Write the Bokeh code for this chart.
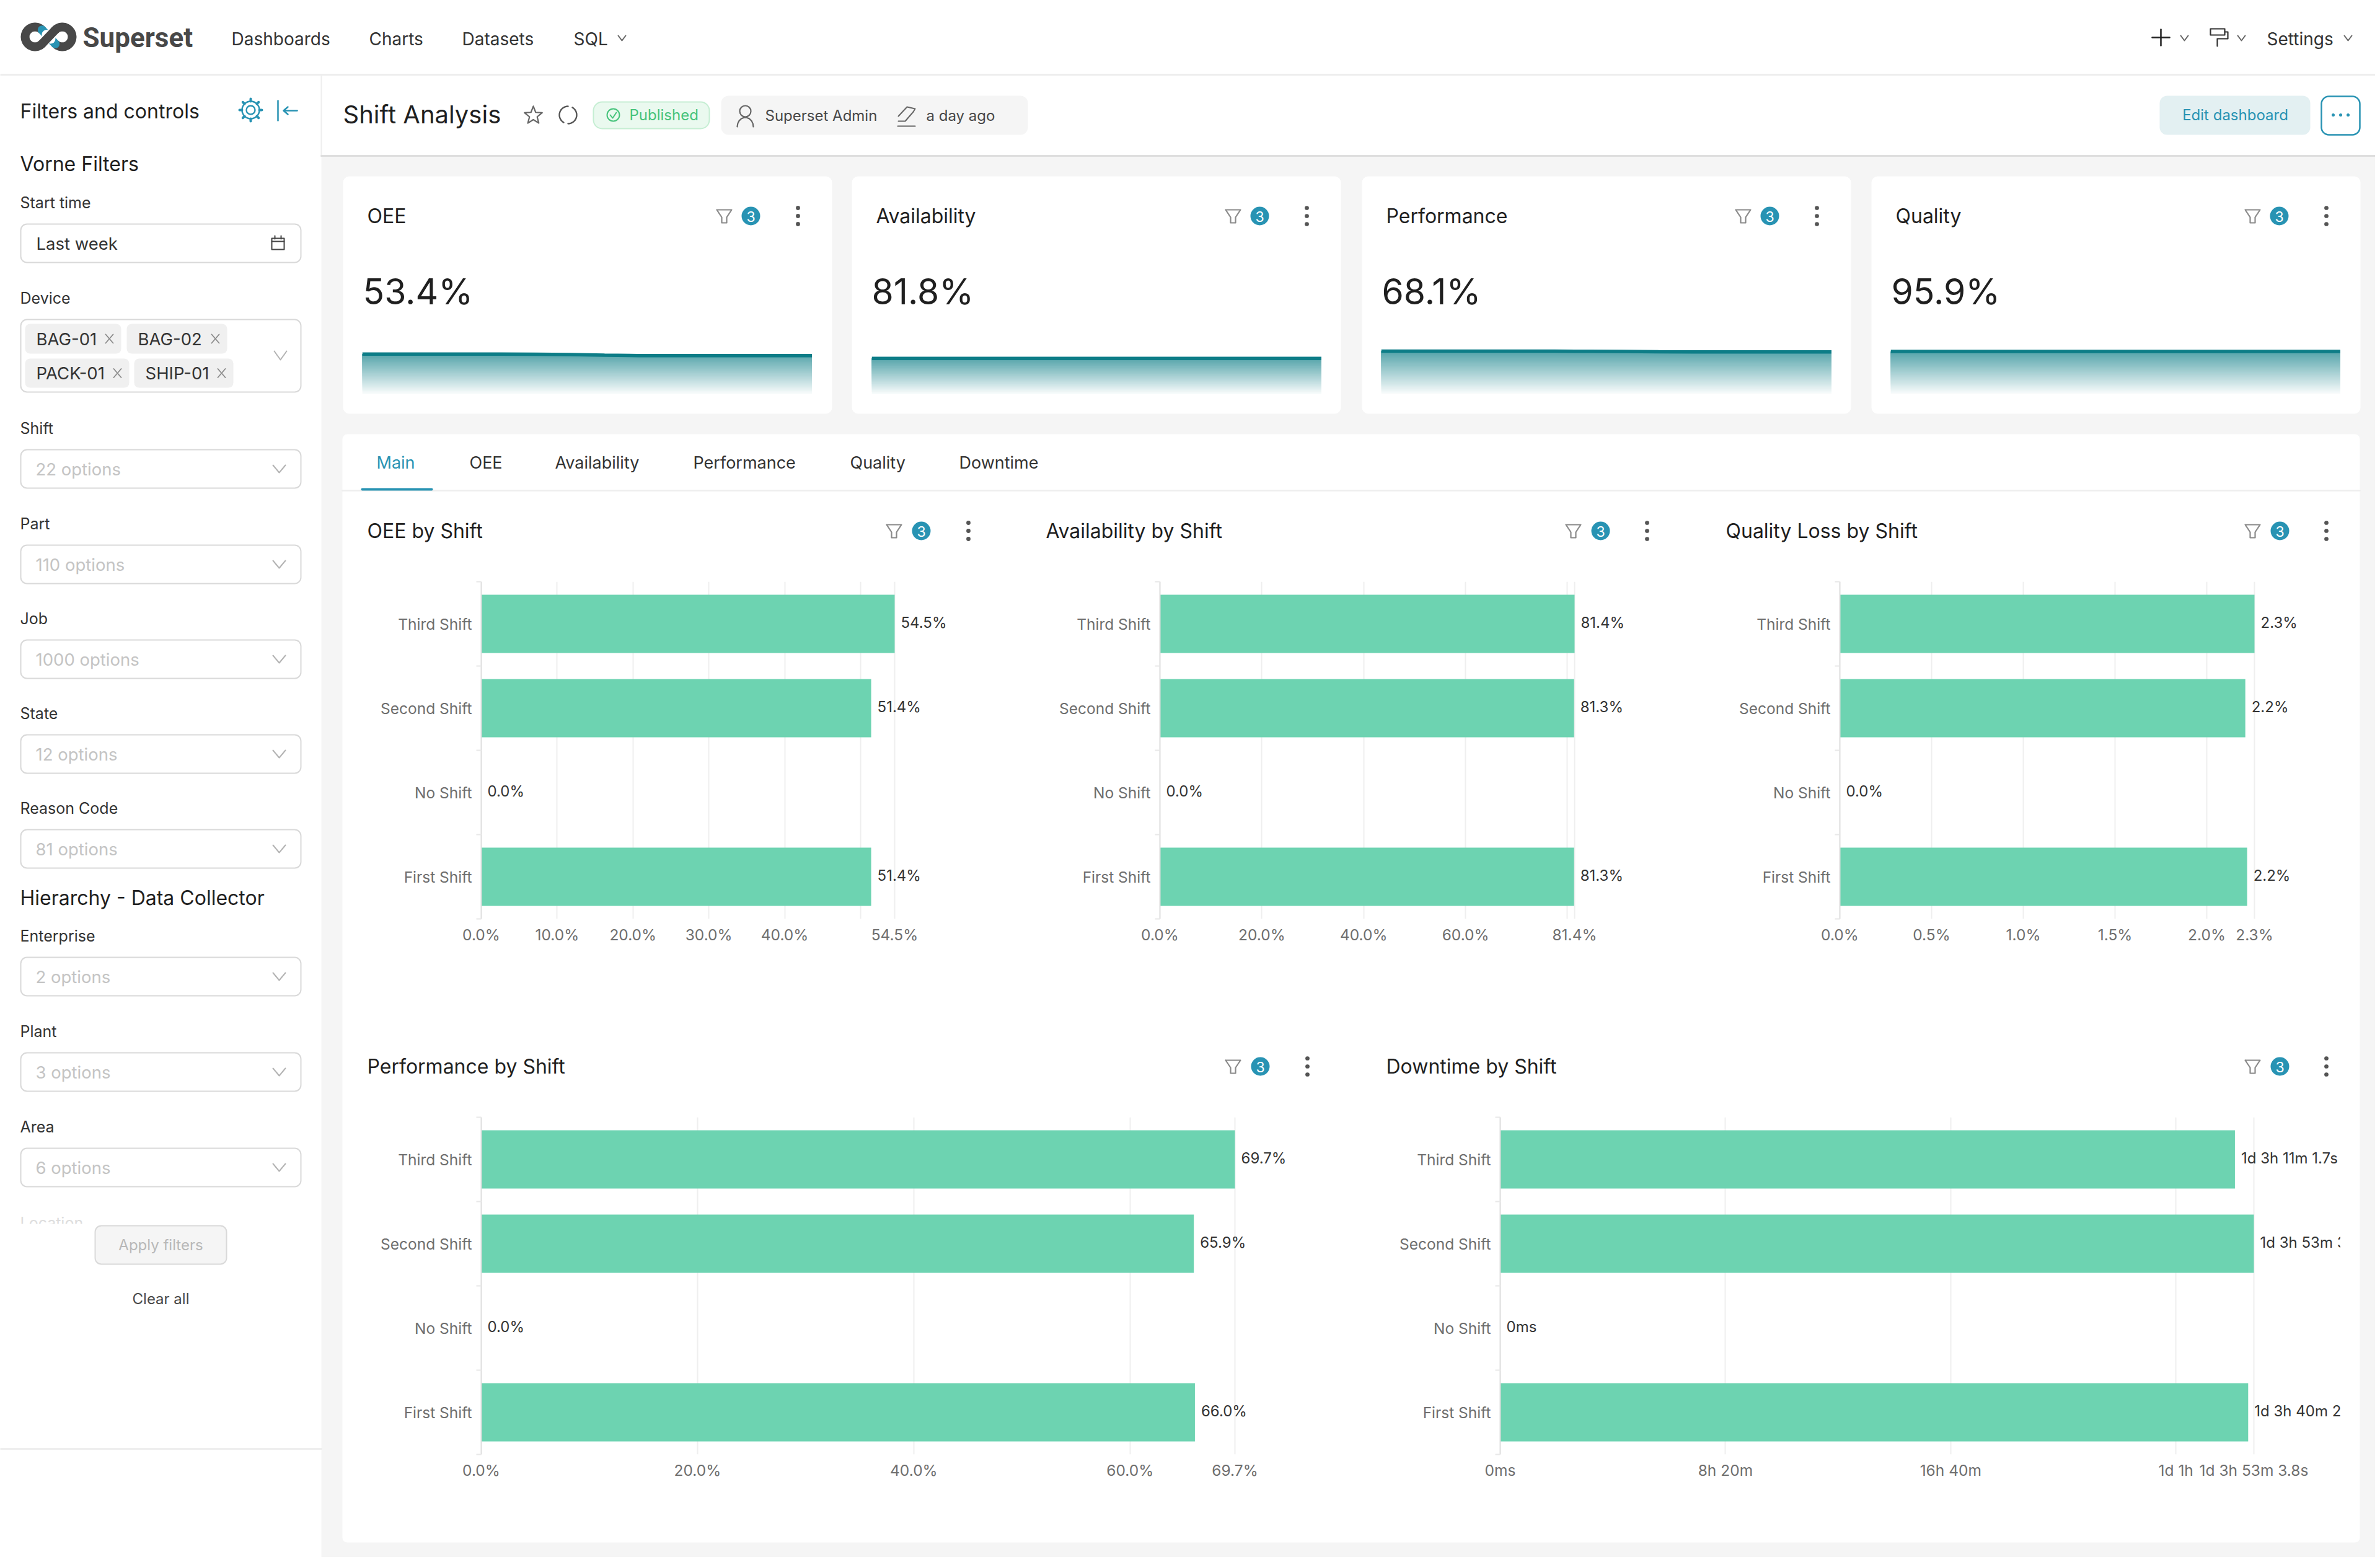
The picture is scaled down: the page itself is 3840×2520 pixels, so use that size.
import math
import numpy as np
from bokeh.core.properties import value
from bokeh.embed import file_html
from bokeh.models import ColumnDataSource, FixedTicker, Range1d
from bokeh.plotting import figure
from bokeh.resources import INLINE

# ---------------- data ----------------
shifts = ["First Shift", "No Shift", "Second Shift", "Third Shift"]
oee_by_shift = [51.4, 0.0, 51.4, 54.5]
availability_by_shift = [81.3, 0.0, 81.3, 81.4]
quality_loss_by_shift = [2.22, 0.0, 2.21, 2.26]
performance_by_shift = [66.0, 0.0, 65.9, 69.7]
downtime_seconds = [99625.0, 0.0, 100383.8, 97861.7]

oee_ticks = [0, 10, 20, 30, 40, 50, 54.5]
availability_ticks = [0, 20, 40, 60, 80, 81.4]
quality_ticks = [0, 0.5, 1.0, 1.5, 2.0, 2.26]
performance_ticks = [0, 20, 40, 60, 69.7]
downtime_ticks = [0, 30000, 60000, 90000, 100383.8]
downtime_tick_labels = ["0ms", "8h 20m", "16h 40m", "1d 1h", "1d 3h 53m 3.8s"]

kpi_names = ["OEE", "Availability", "Performance", "Quality"]
kpi_values = ["53.4%", "81.8%", "68.1%", "95.9%"]
spark_oee = [54.6, 54.6, 54.6, 54.6, 54.6, 54.5, 54.2, 53.8, 53.5, 53.4, 53.4, 53.4, 53.4, 53.4]
spark_availability = [81.8, 81.8, 81.8, 81.8, 81.8, 81.8, 81.8, 81.8, 81.8, 81.8, 81.8, 81.8, 81.8, 81.8]
spark_performance = [68.6, 68.6, 68.6, 68.6, 68.6, 68.6, 68.5, 68.4, 68.2, 68.1, 68.1, 68.1, 68.1, 68.1]
spark_quality = [95.9, 95.9, 95.9, 95.9, 95.9, 95.9, 95.9, 95.9, 95.9, 95.9, 95.9, 95.9, 95.9, 95.9]

tabs = ["Main", "OEE", "Availability", "Performance", "Quality", "Downtime"]
nav_items = ["Dashboards", "Charts", "Datasets", "SQL"]
device_tags = ["BAG-01", "BAG-02", "PACK-01", "SHIP-01"]
filter_names = ["Shift", "Part", "Job", "State", "Reason Code", "Enterprise", "Plant", "Area"]
filter_options = ["22 options", "110 options", "1000 options", "12 options", "81 options",
                  "2 options", "3 options", "6 options"]

# ---------------- styles ----------------
TEAL = "#2893b3"
BAR = "#6dd3b1"
INK = "#1f1f1f"
FONT = "Inter"
WIN_W, WIN_H = 3832, 2512

bg = figure(width=WIN_W, height=WIN_H, x_range=Range1d(0, WIN_W), y_range=Range1d(WIN_H, 0),
            output_backend="svg", toolbar_location=None, min_border=0, outline_line_color=None,
            background_fill_color="white", border_fill_color="white")
bg.xaxis.visible = False
bg.yaxis.visible = False
bg.grid.visible = False


def box(x0, y0, x1, y1, fill="white", line=None, r=0, lw=2):
    bg.quad(left=[x0], right=[x1], top=[y0], bottom=[y1], fill_color=fill, line_color=line,
            line_width=lw, border_radius=r)


def txt(x, y, s, size, color=INK, align="left", font=FONT, style="normal"):
    bg.text(x=[x], y=[y], text=[s], text_font=value(font), text_font_size=f"{size}px",
            text_color=color, text_align=align, text_baseline="middle", text_font_style=style)


def ln(xs, ys, color="#555555", w=2):
    bg.line(x=xs, y=ys, line_color=color, line_width=w, line_cap="round", line_join="round")


def ring(x, y, r, color="#555555", w=2, fill=None):
    bg.circle(x=[x], y=[y], radius=r, line_color=color, line_width=w, fill_color=fill)


def dot(x, y, r, color):
    bg.circle(x=[x], y=[y], radius=r, line_color=None, fill_color=color)


def chevron(x, y, w=11, h=6, color="#666666", lw=2):
    ln([x - w, x, x + w], [y - h, y + h, y - h], color, lw)


def pieces(x, y):
    """funnel, count badge and more-menu of a chart header"""
    fx, bx, mx = x
    ln([fx - 12, fx + 12, fx + 4, fx + 4, fx - 4, fx - 4, fx - 12],
       [y - 10, y - 10, y + 2, y + 11, y + 11, y + 2, y - 10], "#8a8a8a", 2.2)
    dot(bx, y, 15, TEAL)
    txt(bx, y + 1, "3", 23, "white", "center")
    for dy in (-13, 0, 13):
        dot(mx, y + dy, 3.4, "#555555")


# ---------------- page background ----------------
box(518, 251, WIN_W, WIN_H, "#f5f5f5")
ln([0, WIN_W], [120, 120], "#eeeeee", 3)
ln([518, 518], [120, 251], "#eeeeee", 2)
ln([518, WIN_W], [251, 251], "#dedede", 3)

# ---------------- top navigation ----------------
d = np.radians(np.arange(45, 316, 15))
lx = 56 + 16 * np.cos(d)
ly = 59 - 16 * np.sin(d)
rx = 100 - 16 * np.cos(d)
ry = 59 - 16 * np.sin(d)
ln(list(lx), list(ly), "#484848", 14)
ln(list(rx), list(ry), "#484848", 14)
ln([67.3, 88.7], [47.7, 70.3], TEAL, 14)
ln([75, 81], [55.5, 62], "#ffffff", 16)
ln([67.3, 88.7], [70.3, 47.7], "#484848", 14)
txt(133, 60, "Superset", 44, "#484848", font="Roboto", style="bold")
for name, x in zip(nav_items, [373, 595, 745, 925]):
    txt(x, 62, name, 28, "#333333")
chevron(1003, 61, 6, 4)
ln([3472, 3500], [60, 60], INK, 2.5)
ln([3486, 3486], [47, 73], INK, 2.5)
chevron(3524, 61, 6, 4)
ln([3566, 3589, 3589, 3566, 3566], [46, 46, 56, 56, 46], "#333333", 2.2)
ln([3589, 3594, 3594, 3577, 3577, 3577], [51, 51, 62, 62, 62, 74], "#333333", 2.2)
chevron(3616, 61, 6, 4)
txt(3657, 62, "Settings", 28, "#333333")
chevron(3788, 61, 6, 4)

# ---------------- title bar ----------------
txt(553, 184, "Shift Analysis", 40, INK)
a = np.radians(np.arange(-90, 270, 36))
sr = np.array([15, 6.5] * 5)
ln(list(860 + sr * np.cos(a)) + [860], list(186 + sr * np.sin(a)) + [171], "#666666", 2.2)
a1 = np.radians(np.arange(-60, 100, 10))
ln(list(916 + 14 * np.cos(a1)), list(185 + 14 * np.sin(a1)), "#555555", 2.4)
ln(list(916 - 14 * np.cos(a1)), list(185 - 14 * np.sin(a1)), "#555555", 2.4)
box(957, 164, 1144, 207, "#eaf9ef", "#c5eed3", 14)
ring(989, 185, 10, "#46c37b", 2)
ln([984, 988, 994], [185, 190, 181], "#46c37b", 2)
txt(1015, 185, "Published", 24, "#46c37b")
box(1163, 154, 1658, 217, "#f5f5f5", None, 12)
ring(1202, 179, 9, "#666666", 2.2)
a2 = np.radians(np.arange(180, 361, 20))
ln(list(1202 + 13 * np.cos(a2)), list(204 + 15 * np.sin(a2)), "#666666", 2.2)
txt(1234, 186, "Superset Admin", 24, "#484848")
ln([1449, 1460, 1473, 1476, 1463, 1449], [195, 195, 180, 175, 172, 187], "#666666", 2)
ln([1448, 1476], [203, 203], "#666666", 2.2)
txt(1494, 186, "a day ago", 24, "#484848")
box(3484, 154, 3727, 217, "#e3f0f2", None, 12)
txt(3606, 185, "Edit dashboard", 24, TEAL, "center")
box(3745, 155, 3807, 217, "white", TEAL, 12, 2.5)
for dx in (-12, 0, 12):
    dot(3776 + dx, 185, 2.5, TEAL)

# ---------------- sidebar ----------------
txt(32, 179, "Filters and controls", 32, INK)
ring(404, 177, 7, TEAL, 2.4)
ring(404, 177, 14, TEAL, 2.4)
for k in range(8):
    ca, sa = math.cos(k * math.pi / 4), math.sin(k * math.pi / 4)
    ln([404 + 14 * ca, 404 + 18 * ca], [177 + 14 * sa, 177 + 18 * sa], TEAL, 4)
ln([448, 448], [162, 194], TEAL, 2.5)
ln([479, 458], [178, 178], TEAL, 2.5)
ln([464, 457, 464], [172, 178, 184], TEAL, 2.5)
txt(32, 264, "Vorne Filters", 32, INK)
txt(32, 326, "Start time", 25, "#333333")
box(33, 361, 485, 423, "white", "#d9d9d9", 10)
txt(58, 392, "Last week", 27.5, "#333333")
ln([438, 458, 458, 438, 438], [384, 384, 402, 402, 384], "#444444", 2)
ln([438, 458], [389, 389], "#444444", 2)
ln([443, 443], [380, 385], "#444444", 2)
ln([453, 453], [380, 385], "#444444", 2)
txt(32, 480, "Device", 25, "#333333")
box(33, 515, 485, 632, "white", "#d9d9d9", 10)
tag_boxes = [(40, 522, 195, 570), (204, 522, 366, 570), (40, 578, 208, 625), (216, 578, 376, 625)]
for label, (x0, y0, x1, y1) in zip(device_tags, tag_boxes):
    box(x0, y0, x1, y1, "#f0f0f0", None, 8)
    txt(x0 + 18, (y0 + y1) / 2, label, 27.5, "#333333")
    cx, cy = x1 - 19, (y0 + y1) / 2
    ln([cx - 6, cx + 6], [cy - 7, cy + 7], "#8a8a8a", 1.8)
    ln([cx - 6, cx + 6], [cy + 7, cy - 7], "#8a8a8a", 1.8)
chevron(452, 573, 10, 7, "#b3b3b3")

filter_rows = [690, 844, 997, 1150, 1303, 1509, 1663, 1817]
for name, opts, y in zip(filter_names, filter_options, filter_rows):
    txt(32, y, name, 25, "#333333")
    box(33, y + 35, 485, y + 97, "white", "#d9d9d9", 10)
    txt(57, y + 66, opts, 27.5, "#c4c4c4")
    chevron(450, y + 66, 10, 6, "#b3b3b3")
txt(32, 1448, "Hierarchy - Data Collector", 32, INK)
txt(32, 1972, "Location", 25, "#dddddd")
box(0, 1974, 517, 2000, "white")
box(153, 1977, 365, 2039, "#f5f5f5", "#d9d9d9", 10)
txt(259, 2008, "Apply filters", 24, "#b8b8b8", "center")
txt(259, 2095, "Clear all", 24, "#484848", "center")
ln([0, 518], [2337, 2337], "#eeeeee", 3)

# ---------------- KPI cards ----------------
card_x = [553, 1374, 2197, 3019]
for i, (name, val, x) in enumerate(zip(kpi_names, kpi_values, card_x)):
    box(x, 284, x + 789, 667, "white", None, 10)
    txt(x + 39, 348, name, 32, INK)
    txt(x + 32, 470, val, 57, INK)
    pieces((x + 615, x + 658, x + 734), 348)

# ---------------- tabs panel ----------------
box(552, 700, 3807, 2488, "white", None, 8)
ln([552, 3807], [791, 791], "#eeeeee", 2.5)
ln([584, 696], [789, 789], TEAL, 4)
for i, (tab, x) in enumerate(zip(tabs, [607, 757, 895, 1118, 1371, 1547])):
    txt(x, 746, tab, 27, TEAL if i == 0 else "#333333")

for title, x, icons, y in [("OEE by Shift", 592, (1442, 1486, 1562), 856),
                           ("Availability by Shift", 1687, (2538, 2582, 2657), 856),
                           ("Quality Loss by Shift", 2784, (3634, 3678, 3753), 856),
                           ("Performance by Shift", 592, (1989, 2033, 2109), 1720),
                           ("Downtime by Shift", 2236, (3634, 3678, 3753), 1720)]:
    txt(x, y, title, 32, INK)
    pieces(icons, y)


# ---------------- bar charts ----------------
def fmt_pct(v):
    return f"{v:.1f}%"


def fmt_duration(sec):
    if sec == 0:
        return "0ms"
    days, rest = divmod(sec, 86400)
    hours, rest = divmod(rest, 3600)
    mins, secs = divmod(rest, 60)
    s = f"{secs:.1f}".rstrip("0").rstrip(".")
    return f"{int(days)}d {int(hours)}h {int(mins)}m {s}s"


def bar_chart(vals, ticks, tick_labels, label_fn, x0, max_px, top, right):
    left_pad, top_pad, bottom_pad = 240, 12, 70
    frame_w, frame_h = right - x0, 544
    vmax = max(ticks)
    n = len(shifts)
    p = figure(width=frame_w + left_pad, height=frame_h + top_pad + bottom_pad,
               x_range=Range1d(0, vmax * frame_w / max_px), y_range=Range1d(0, n),
               output_backend="svg", toolbar_location=None, min_border_left=left_pad,
               min_border_right=0, min_border_top=top_pad, min_border_bottom=bottom_pad,
               outline_line_color=None, background_fill_alpha=0, border_fill_alpha=0,
               styles={"position": "absolute", "left": f"{x0 - left_pad}px",
                       "top": f"{top - top_pad}px"})
    centers = [i + 0.5 for i in range(n)]
    src = ColumnDataSource(dict(pos=centers, v=vals, label=[label_fn(v) for v in vals]))
    p.hbar(y="pos", left=0, right="v", height=0.69, source=src, fill_color=BAR, line_color=None)
    p.text(x="v", y="pos", text="label", source=src, x_offset=10, y_offset=-2, text_baseline="middle",
           text_font=value(FONT), text_font_size="24px", text_color="#333333")
    xa = p.xaxis[0]
    xa.ticker = FixedTicker(ticks=ticks)
    xa.major_label_overrides = {float(t): s for t, s in zip(ticks, tick_labels)}
    xa.axis_line_color = None
    xa.major_tick_line_color = None
    xa.minor_tick_line_color = None
    xa.major_label_standoff = 4
    xa.major_label_text_font = FONT
    xa.major_label_text_font_size = "24.5px"
    xa.major_label_text_color = "#6e6e6e"
    p.xgrid.grid_line_color = "#efefef"
    p.xgrid.grid_line_width = 2
    p.ygrid.visible = False
    ya = p.yaxis[0]
    ya.ticker = FixedTicker(ticks=centers, minor_ticks=list(range(n + 1)))
    ya.major_label_overrides = {c: s for c, s in zip(centers, shifts)}
    ya.axis_line_color = "#dedede"
    ya.axis_line_width = 2
    ya.major_tick_line_color = None
    ya.minor_tick_line_color = "#e8e8e8"
    ya.minor_tick_line_width = 2
    ya.minor_tick_out = 8
    ya.minor_tick_in = 0
    ya.major_tick_out = 0
    ya.major_tick_in = 0
    ya.major_label_standoff = 7
    ya.major_label_text_font = FONT
    ya.major_label_text_font_size = "24.5px"
    ya.major_label_text_color = "#6e6e6e"
    return p


def spark_chart(series, x0, x1, v_low, v_high):
    top, bottom = 556, 636
    p = figure(width=x1 - x0, height=bottom - top, x_range=Range1d(0, len(series) - 1),
               y_range=Range1d(v_low, v_high), output_backend="svg", toolbar_location=None,
               min_border=0, outline_line_color=None, background_fill_alpha=0, border_fill_alpha=0,
               styles={"position": "absolute", "left": f"{x0}px", "top": f"{top}px"})
    p.xaxis.visible = False
    p.yaxis.visible = False
    p.grid.visible = False
    xs = np.arange(len(series))
    arr = np.array(series, dtype=float)
    steps = 36
    low_col, top_col = np.array([255, 255, 255]), np.array([88, 166, 172])
    floor = v_low
    ceil = arr.max()
    for k in range(steps):
        level = floor + (ceil - floor) * k / steps
        c = low_col + (top_col - low_col) * ((k + 1) / steps)
        p.varea(x=xs, y1=np.full(len(xs), level), y2=np.maximum(arr, level),
                fill_color="#%02x%02x%02x" % tuple(int(v) for v in c))
    p.line(x=xs, y=arr, line_color="#0d7d87", line_width=5.5)
    return p


charts = [
    bar_chart(oee_by_shift, oee_ticks, [fmt_pct(t) if t != 50 else "" for t in oee_ticks],
              fmt_pct, 776, 667, 938, 1620),
    bar_chart(availability_by_shift, availability_ticks,
              [fmt_pct(t) if t != 80 else "" for t in availability_ticks], fmt_pct, 1871, 669, 938, 2720),
    bar_chart(quality_loss_by_shift, quality_ticks, [fmt_pct(t) for t in quality_ticks],
              fmt_pct, 2968, 669, 938, 3800),
    bar_chart(performance_by_shift, performance_ticks, [fmt_pct(t) for t in performance_ticks],
              fmt_pct, 776, 1216, 1802, 2180),
    bar_chart(downtime_seconds, downtime_ticks, downtime_tick_labels, fmt_duration, 2420, 1216, 1802, 3776),
    spark_chart(spark_oee, 584, 1310, 24.5, 61.4),
    spark_chart(spark_availability, 1406, 2132, 40, 97.3),
    spark_chart(spark_performance, 2228, 2955, 38, 73),
    spark_chart(spark_quality, 3050, 3776, 60, 101.3),
]

open("out.html", "w").write(file_html([bg, *charts], INLINE))
